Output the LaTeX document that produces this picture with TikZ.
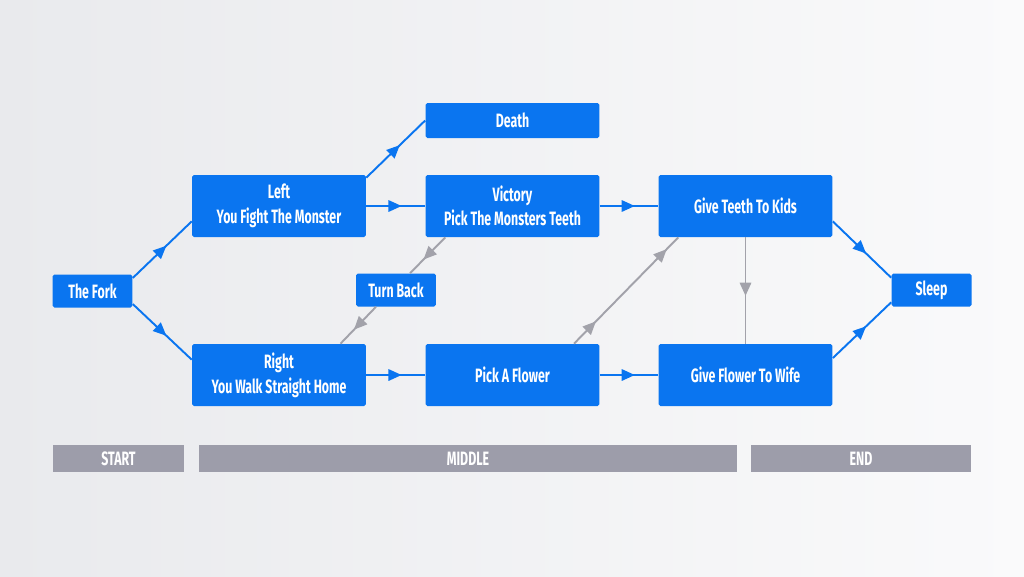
\documentclass[tikz,border=0pt]{standalone}
\usepackage{fontspec}
\setmainfont{Fira Sans}[FakeStretch=0.64]
\usepackage{tikz}
\usetikzlibrary{arrows.meta, decorations.markings}
\definecolor{stepblue}{RGB}{10,117,240}
\definecolor{backgray}{RGB}{162,162,170}
\definecolor{bargray}{RGB}{157,157,170}

\begin{document}
\begin{tikzpicture}[x=0.02cm, y=-0.02cm, font=\fontsize{11}{14}\selectfont\bfseries,
  widebox/.style={rectangle, rounded corners=1pt, fill=stepblue, text=white, align=center, minimum width=3.48cm, minimum height=1.24cm, inner sep=0pt},
  slimbox/.style={widebox, minimum height=0.7cm},
  smallbox/.style={widebox, minimum width=1.6cm, minimum height=0.66cm},
  phase/.style={rectangle, fill=bargray, text=white, minimum height=0.54cm, inner sep=0pt},
  bluedge/.style={stepblue, line width=1.1pt},
  grayedge/.style={backgray, line width=1.1pt},
  midtip/.style={postaction={decorate, decoration={markings, mark=at position #1 with {\arrow{Triangle[length=7.5pt, width=6.5pt]}}}}},
  midtip/.default=0.6
]
  % ===== background =====
  \shade[left color={rgb,255:red,233;green,234;blue,237}, right color={rgb,255:red,250;green,250;blue,251}] (0,0) rectangle (1024,576);
  \useasboundingbox (0,0) rectangle (1024,576);
  % ===== story steps =====
  \node[smallbox] (fork)    at (92.5,291)  {The Fork};
  \node[widebox]  (left)    at (279,206)   {Left\\You Fight The Monster};
  \node[widebox]  (right)   at (279,375)   {Right\\You Walk Straight Home};
  \node[slimbox]  (death)   at (512.5,120.5) {Death};
  \node[widebox]  (victory) at (512.5,206) {Victory\\Pick The Monsters Teeth};
  \node[smallbox] (turn)    at (396,290)   {Turn Back};
  \node[widebox]  (flower)  at (512.5,375) {Pick A Flower};
  \node[widebox]  (teeth)   at (745.5,206) {Give Teeth To Kids};
  \node[widebox]  (wife)    at (745.5,375) {Give Flower To Wife};
  \node[smallbox] (sleep)   at (931.5,290) {Sleep};
  % ===== connectors =====
  \draw[bluedge, midtip=0.57] (fork.18) -- (left.190);
  \draw[bluedge, midtip=0.57] (fork.-18) -- (right.170);
  \draw[bluedge, midtip=0.57] (left.18) -- (death.west);
  \draw[bluedge, midtip] (left) -- (victory);
  \draw[bluedge, midtip] (right) -- (flower);
  \draw[bluedge, midtip] (victory) -- (teeth);
  \draw[bluedge, midtip] (flower) -- (wife);
  \draw[bluedge, midtip=0.57] (teeth.-10) -- (sleep.163);
  \draw[bluedge, midtip=0.57] (wife.11) -- (sleep.197);
  \draw[grayedge, midtip=0.62] (victory.205) -- (turn.50);
  \draw[grayedge, midtip=0.62] (turn.220) -- (right.27);
  \draw[grayedge, midtip=0.21, midtip=0.89] (flower.27) -- (teeth.205);
  \draw[grayedge, midtip=0.55] (teeth) -- (wife);
  % ===== phases =====
  \node[phase, minimum width=2.62cm]  (start)  at (118.5,458.5) {START};
  \node[phase, minimum width=10.76cm] (middle) at (468,458.5)   {MIDDLE};
  \node[phase, minimum width=4.4cm]   (end)    at (861,458.5)   {END};
\end{tikzpicture}
\end{document}
